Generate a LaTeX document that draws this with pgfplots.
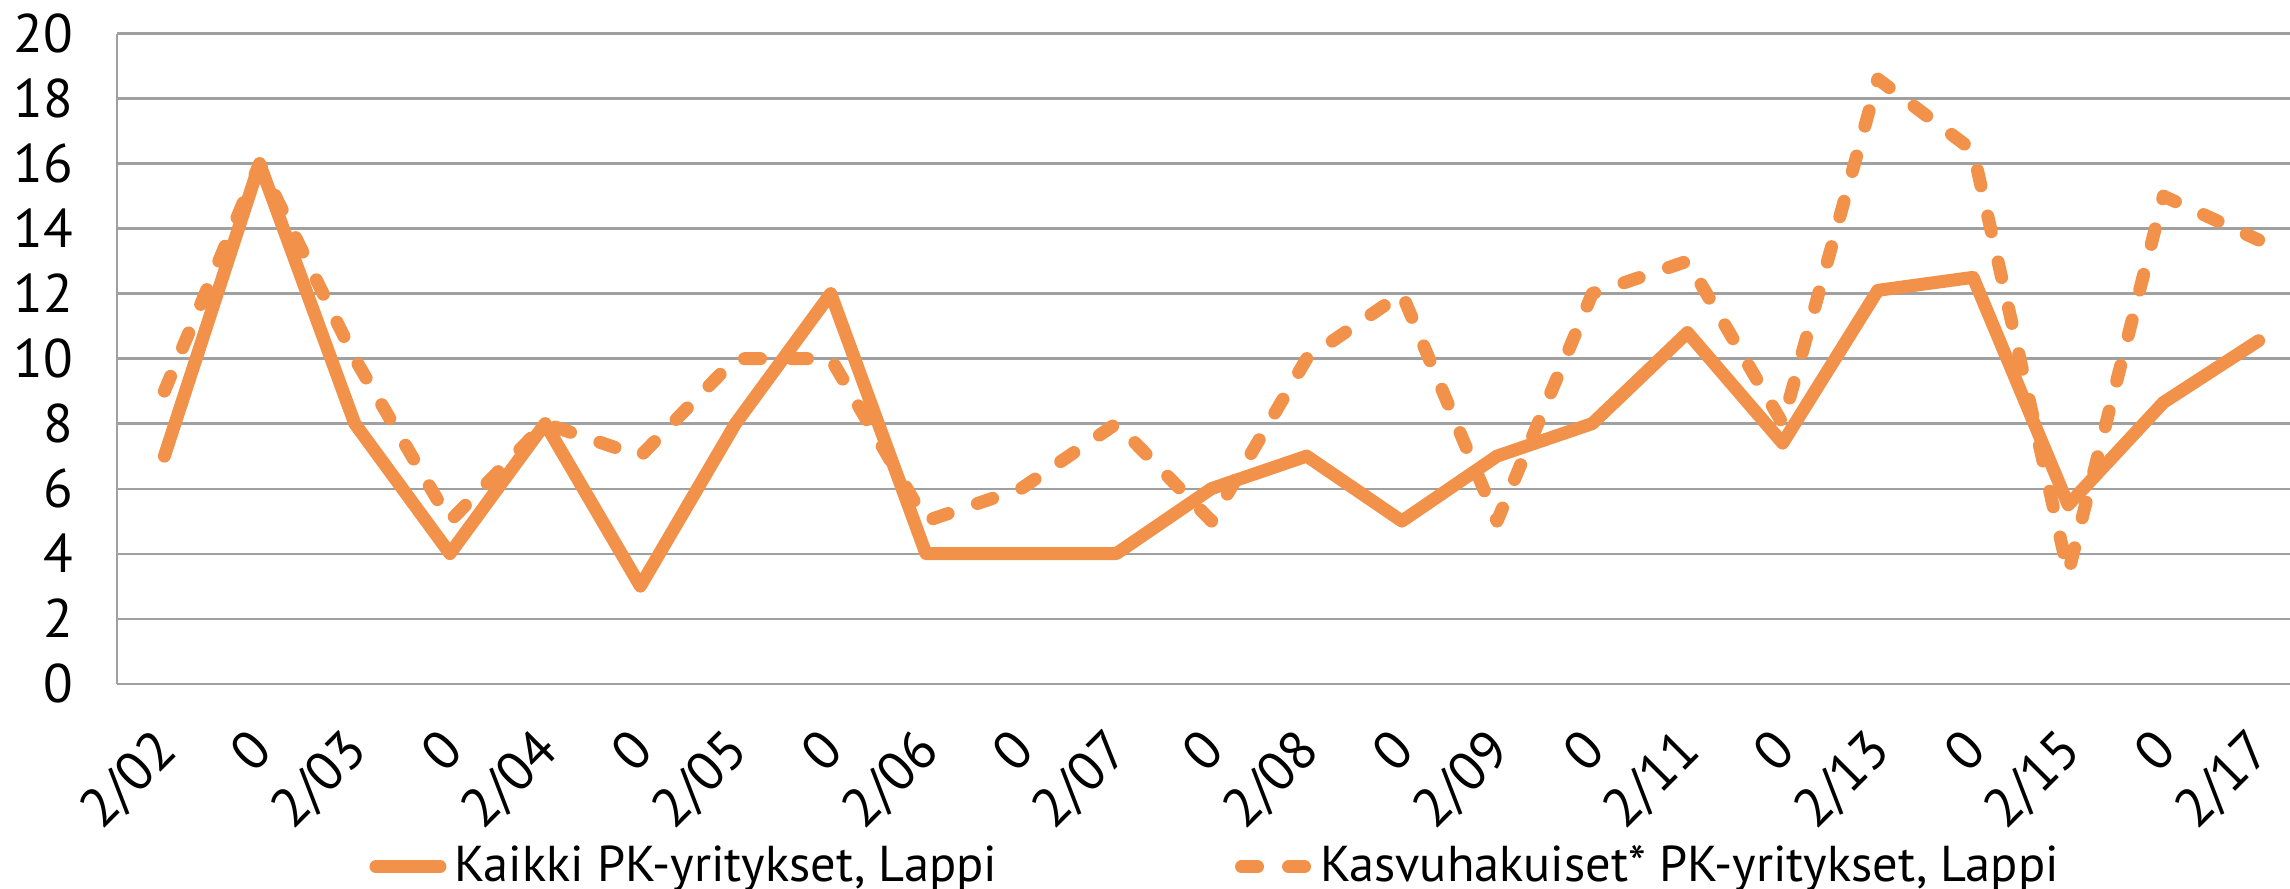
\documentclass[border=0pt]{standalone}
\usepackage{pgfplots}
\pgfplotsset{compat=1.18}
\usepackage{fontspec}
\setmainfont{PT Sans}
\definecolor{lineor}{HTML}{F29149}
\definecolor{gridg}{HTML}{A0A0A0}
\begin{document}
\begin{tikzpicture}
\begin{axis}[
  at={(0,0)}, anchor=south west,
  scale only axis, width=543.3pt, height=162.5pt,
  xmin=-0.5, xmax=22.33, ymin=0, ymax=20,
  xtick={0,...,22},
  xticklabels={2/02,0,2/03,0,2/04,0,2/05,0,2/06,0,2/07,0,2/08,0,2/09,0,2/11,0,2/13,0,2/15,0,2/17},
  ytick={0,2,...,20},
  axis x line*=bottom, axis y line*=left,
  axis line style={-, gridg, line width=0.55pt},
  ymajorgrids, grid style={gridg, line width=0.55pt},
  major tick length=0pt,
  /pgf/number format/assume math mode=true,
  tick label style={font=\fontsize{13.6}{16}\selectfont, text=black},
  yticklabel style={anchor=east, inner sep=0pt, xshift=-10.7pt},
  xticklabel style={inner sep=0pt, xshift=3.9pt, yshift=-17.4pt, rotate=45, anchor=base east},
  legend columns=2,
  legend style={draw=none, fill=none, font=\fontsize{12.6}{14}\selectfont,
    at={(axis description cs:0.1159,-0.2818)}, anchor=west, inner sep=0pt,
    /tikz/every even column/.append style={column sep=57.5pt}},
  legend image code/.code={\draw[#1] (0pt,0pt) -- (16pt,0pt);},
  every axis plot/.append style={line width=3.25pt, lineor, line join=round, line cap=round},
]
\addplot[mark=none] coordinates {
(0,7) (1,16) (2,8) (3,4) (4,8) (5,3) (6,8) (7,12) (8,4) (9,4) (10,4) (11,6)
(12,7) (13,5) (14,7) (15,8) (16,10.8) (17,7.4) (18,12.1) (19,12.5) (20,5.5) (21,8.65) (22,10.55)};
\addlegendentry{Kaikki PK-yritykset, Lappi}
\addplot[mark=none, dash pattern=on 4pt off 7.75pt] coordinates {
(0,9) (1,16) (2,10) (3,5) (4,8) (5,7) (6,10) (7,10) (8,5) (9,6) (10,8) (11,5)
(12,10) (13,12) (14,5) (15,12) (16,13) (17,8) (18,18.6) (19,16.4) (20,3.4) (21,15) (22,13.65)};
\addlegendentry{Kasvuhakuiset* PK-yritykset, Lappi}
\end{axis}
\pgfresetboundingbox
\useasboundingbox (-29.2pt,-51.3pt) rectangle (543.3pt,170.9pt);
\end{tikzpicture}
\end{document}
